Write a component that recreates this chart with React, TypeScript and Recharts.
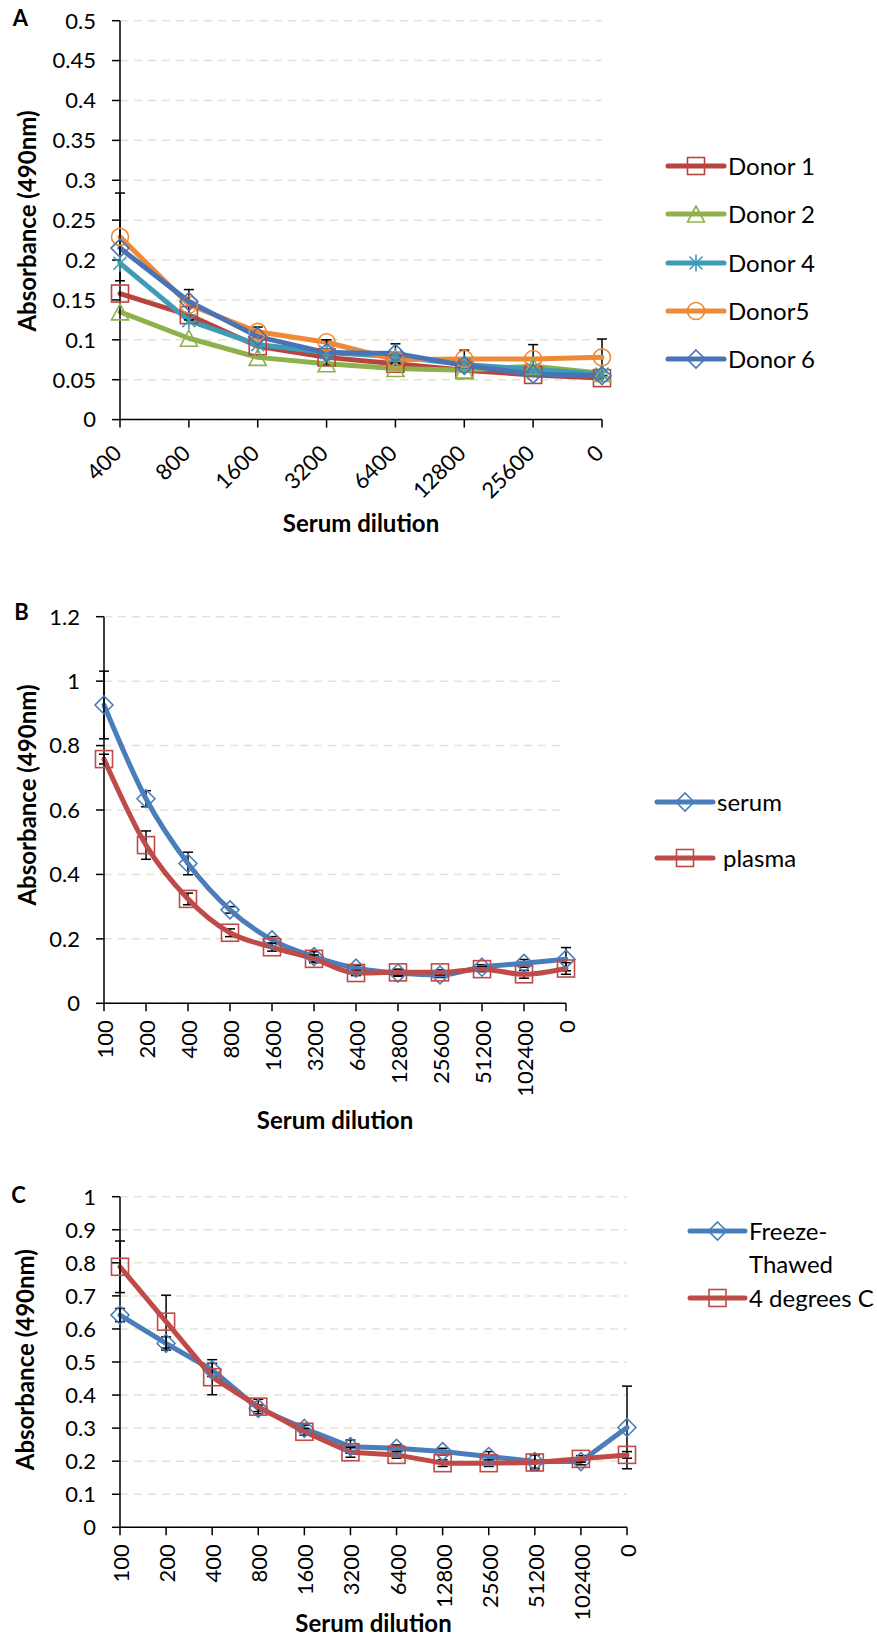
import React from "react";
import { LineChart, Line, XAxis, YAxis, CartesianGrid, ErrorBar, Legend } from "recharts";

const FONT = 'Lato, Carlito, Calibri, "Open Sans", sans-serif';
const PAGE_W = 877;

// ---- A: five donors ----
const dilutionsA = ["400", "800", "1600", "3200", "6400", "12800", "25600", "0"];
const donor1 = [0.158, 0.131, 0.092, 0.078, 0.07, 0.062, 0.056, 0.052];
const donor2 = [0.135, 0.102, 0.078, 0.07, 0.064, 0.062, 0.067, 0.058];
const donor4 = [0.196, 0.124, 0.094, 0.084, 0.079, 0.069, 0.063, 0.057];
const donor5 = [0.229, 0.144, 0.11, 0.097, 0.075, 0.076, 0.076, 0.078];
const donor6 = [0.215, 0.148, 0.104, 0.084, 0.083, 0.068, 0.057, 0.055];
const donor5Err = [0.055, 0.019, 0.006, 0, 0, 0.011, 0.018, 0.023];
const donor6Err = [0, 0, 0, 0.016, 0.012, 0, 0, 0];
const ticksA = [0, 0.05, 0.1, 0.15, 0.2, 0.25, 0.3, 0.35, 0.4, 0.45, 0.5];

// ---- B: serum vs plasma ----
const dilutionsB = ["100", "200", "400", "800", "1600", "3200", "6400", "12800", "25600", "51200", "102400", "0"];
const serumB = [0.926, 0.635, 0.434, 0.29, 0.197, 0.145, 0.109, 0.094, 0.088, 0.112, 0.124, 0.137];
const plasmaB = [0.758, 0.491, 0.324, 0.219, 0.174, 0.138, 0.094, 0.096, 0.096, 0.106, 0.09, 0.108];
const serumErrB = [0.105, 0.025, 0.035, 0.01, 0.01, 0.015, 0.008, 0.01, 0.008, 0.008, 0.012, 0.036];
const plasmaErrB = [0.015, 0.044, 0.018, 0.012, 0.012, 0.012, 0.008, 0.01, 0.008, 0.008, 0.012, 0.018];
const ticksB = [0, 0.2, 0.4, 0.6, 0.8, 1, 1.2];

// ---- C: storage ----
const dilutionsC = ["100", "200", "400", "800", "1600", "3200", "6400", "12800", "25600", "51200", "102400", "0"];
const freezeC = [0.642, 0.556, 0.476, 0.36, 0.299, 0.244, 0.239, 0.229, 0.214, 0.199, 0.199, 0.302];
const fourDegC = [0.788, 0.622, 0.454, 0.365, 0.289, 0.227, 0.219, 0.194, 0.194, 0.196, 0.207, 0.219];
const freezeErrC = [0.02, 0.02, 0.02, 0.01, 0.01, 0.02, 0.01, 0.01, 0.015, 0.02, 0.01, 0.125];
const fourDegErrC = [0.078, 0.08, 0.053, 0.022, 0.01, 0.015, 0.01, 0.01, 0.01, 0.023, 0.01, 0.01];
const ticksC = [0, 0.1, 0.2, 0.3, 0.4, 0.5, 0.6, 0.7, 0.8, 0.9, 1];

const BLUE = "#4A7EBB";
const RED = "#BE4B48";
const DONOR_BLUE = "#4674B6";
const DONOR_RED = "#B8443F";
const GREEN = "#8DB24C";
const AQUA = "#3F9CB6";
const ORANGE = "#EE8A36";

type Shape = "square" | "triangle" | "star" | "circle" | "diamond";

interface SeriesDef {
  key: string;
  label: string[];
  color: string;
  shape: Shape;
  err?: string;
}

interface PanelDef {
  letter: string;
  letterAt: [number, number];
  top: number;
  height: number;
  plot: { left: number; right: number; top: number; bottom: number };
  xAxisHeight: number;
  rows: Record<string, string | number>[];
  series: SeriesDef[];
  yDomain: [number, number];
  yTicks: number[];
  curve: "linear" | "monotone";
  slanted: boolean;
  yTitleAt: [number, number];
  xTitleY: number;
  legendLine: [number, number];
  legendTextX: number[];
  legendY: number[][];
}

const rowsA = dilutionsA.map((d, i) => ({
  dilution: d,
  donor1: donor1[i],
  donor2: donor2[i],
  donor4: donor4[i],
  donor5: donor5[i],
  donor6: donor6[i],
  donor5Err: donor5Err[i],
  donor6Err: donor6Err[i],
}));

const rowsB = dilutionsB.map((d, i) => ({
  dilution: d,
  serum: serumB[i],
  plasma: plasmaB[i],
  serumErr: serumErrB[i],
  plasmaErr: plasmaErrB[i],
}));

const rowsC = dilutionsC.map((d, i) => ({
  dilution: d,
  freeze: freezeC[i],
  fourDeg: fourDegC[i],
  freezeErr: freezeErrC[i],
  fourDegErr: fourDegErrC[i],
}));

const panels: PanelDef[] = [
  {
    letter: "A",
    letterAt: [20.5, 17.5],
    top: 0,
    height: 545,
    plot: { left: 120, right: 602, top: 20.7, bottom: 419.6 },
    xAxisHeight: 110,
    rows: rowsA,
    series: [
      { key: "donor1", label: ["Donor 1"], color: DONOR_RED, shape: "square" },
      { key: "donor2", label: ["Donor 2"], color: GREEN, shape: "triangle" },
      { key: "donor4", label: ["Donor 4"], color: AQUA, shape: "star" },
      { key: "donor5", label: ["Donor5"], color: ORANGE, shape: "circle", err: "donor5Err" },
      { key: "donor6", label: ["Donor 6"], color: DONOR_BLUE, shape: "diamond", err: "donor6Err" },
    ],
    yDomain: [0, 0.5],
    yTicks: ticksA,
    curve: "linear",
    slanted: true,
    yTitleAt: [26.5, 221],
    xTitleY: 523,
    legendLine: [668, 724],
    legendTextX: [728, 728, 728, 728, 728],
    legendY: [[166], [214], [263], [311], [359]],
  },
  {
    letter: "B",
    letterAt: [21.5, 52],
    top: 560,
    height: 580,
    plot: { left: 104, right: 566, top: 56.7, bottom: 443.3 },
    xAxisHeight: 120,
    rows: rowsB,
    series: [
      { key: "serum", label: ["serum"], color: BLUE, shape: "diamond", err: "serumErr" },
      { key: "plasma", label: ["plasma"], color: RED, shape: "square", err: "plasmaErr" },
    ],
    yDomain: [0, 1.2],
    yTicks: ticksB,
    curve: "monotone",
    slanted: false,
    yTitleAt: [26, 235],
    xTitleY: 560,
    legendLine: [657, 713],
    legendTextX: [717, 723],
    legendY: [[242], [298]],
  },
  {
    letter: "C",
    letterAt: [18.5, 54.5],
    top: 1140,
    height: 495,
    plot: { left: 120, right: 627, top: 56.7, bottom: 387.3 },
    xAxisHeight: 95,
    rows: rowsC,
    series: [
      { key: "freeze", label: ["Freeze-", "Thawed"], color: BLUE, shape: "diamond", err: "freezeErr" },
      { key: "fourDeg", label: ["4 degrees C"], color: RED, shape: "square", err: "fourDegErr" },
    ],
    yDomain: [0, 1],
    yTicks: ticksC,
    curve: "linear",
    slanted: false,
    yTitleAt: [25, 219.7],
    xTitleY: 483,
    legendLine: [690, 745],
    legendTextX: [749, 749],
    legendY: [[91, 124], [158]],
  },
];

const axisStroke = { stroke: "#000", strokeWidth: 1.5 };
const fmtTick = (v: number) => String(Number(v.toFixed(2)));

function Marker({ shape, cx, cy, color }: { shape: Shape; cx: number; cy: number; color: string }) {
  const s = 8.5;
  const common = { fill: "none", stroke: color, strokeWidth: 1.6 };
  switch (shape) {
    case "square":
      return <rect x={cx - s} y={cy - s} width={2 * s} height={2 * s} {...common} />;
    case "circle":
      return <circle cx={cx} cy={cy} r={s} {...common} />;
    case "diamond":
      return <polygon points={`${cx},${cy - 9} ${cx + 9},${cy} ${cx},${cy + 9} ${cx - 9},${cy}`} {...common} />;
    case "triangle":
      return <polygon points={`${cx},${cy - 8} ${cx + 8.5},${cy + 8} ${cx - 8.5},${cy + 8}`} {...common} />;
    case "star":
      return (
        <path
          d={`M${cx} ${cy - s}V${cy + s}M${cx - 6.5} ${cy - 6.5}L${cx + 6.5} ${cy + 6.5}M${cx - 6.5} ${cy + 6.5}L${cx + 6.5} ${cy - 6.5}`}
          {...common}
        />
      );
  }
  return null;
}

const dotFor = (s: SeriesDef) => (p: any) => {
  const key = `${s.key}-${p.index}`;
  if (p.cx == null || p.cy == null) return <g key={key} />;
  return (
    <g key={key}>
      <Marker shape={s.shape} cx={p.cx} cy={p.cy} color={s.color} />
    </g>
  );
};

// dilution labels slanted at 45 degrees (panel A)
function SlantTick({ x, y, payload }: any) {
  const px = x + 3;
  const py = y + 25;
  return (
    <text x={px} y={py} transform={`rotate(-45 ${px} ${py})`} textAnchor="end" fontSize={22} fill="#000">
      {payload.value}
    </text>
  );
}

// dilution labels reading bottom-to-top (panels B and C)
function UprightTick({ x, y, payload }: any) {
  const px = x + 9;
  const py = y + 7;
  return (
    <text x={px} y={py} transform={`rotate(-90 ${px} ${py})`} textAnchor="end" fontSize={22} fill="#000">
      {payload.value}
    </text>
  );
}

function LegendArt({ p }: { p: PanelDef }) {
  const [x1, x2] = p.legendLine;
  return (
    <svg width={PAGE_W} height={p.height} style={{ overflow: "visible" }}>
      {p.series.map((s, i) => {
        const ys = p.legendY[i];
        const y = ys[0];
        return (
          <g key={s.key}>
            <line x1={x1} y1={y} x2={x2} y2={y} stroke={s.color} strokeWidth={5} strokeLinecap="round" />
            <Marker shape={s.shape} cx={(x1 + x2) / 2} cy={y} color={s.color} />
            {s.label.map((t, j) => (
              <text key={t} x={p.legendTextX[i]} y={ys[j] + 8.5} fontSize={24} fill="#000">
                {t}
              </text>
            ))}
          </g>
        );
      })}
    </svg>
  );
}

function Panel({ p }: { p: PanelDef }) {
  const margin = {
    top: p.plot.top,
    right: PAGE_W - p.plot.right,
    left: 0,
    bottom: p.height - p.plot.bottom - p.xAxisHeight,
  };
  const xCenter = (p.plot.left + p.plot.right) / 2;

  const yTitle = () => (
    <g>
      <text
        x={p.yTitleAt[0]}
        y={p.yTitleAt[1]}
        transform={`rotate(-90 ${p.yTitleAt[0]} ${p.yTitleAt[1]})`}
        textAnchor="middle"
        dominantBaseline="central"
        fontSize={24}
        fontWeight={700}
        fill="#000"
      >
        Absorbance (490nm)
      </text>
      <text
        x={p.letterAt[0]}
        y={p.letterAt[1] + 8}
        textAnchor="middle"
        fontSize={22}
        fontWeight={700}
        fill="#000"
      >
        {p.letter}
      </text>
    </g>
  );

  const xTitle = () => (
    <text x={xCenter} y={p.xTitleY + 8.5} textAnchor="middle" fontSize={24} fontWeight={700} fill="#000">
      Serum dilution
    </text>
  );

  return (
    <div style={{ position: "absolute", left: 0, top: p.top }}>
      <LineChart width={PAGE_W} height={p.height} data={p.rows} margin={margin}>
        <CartesianGrid vertical={false} stroke="#E6E2CF" strokeWidth={1.5} strokeDasharray="8 6" />
        <XAxis
          dataKey="dilution"
          interval={0}
          height={p.xAxisHeight}
          tickSize={8}
          axisLine={axisStroke}
          tickLine={axisStroke}
          tick={(props: any) => (p.slanted ? <SlantTick {...props} /> : <UprightTick {...props} />)}
          label={xTitle}
        />
        <YAxis
          type="number"
          domain={p.yDomain}
          ticks={p.yTicks}
          interval={0}
          width={p.plot.left}
          tickSize={8}
          tickMargin={16}
          tickFormatter={fmtTick}
          axisLine={axisStroke}
          tickLine={axisStroke}
          tick={{ fontSize: 22, fill: "#000" }}
          label={yTitle}
        />
        <Legend
          layout="vertical"
          align="center"
          verticalAlign="middle"
          wrapperStyle={{ left: 0, top: 0, width: PAGE_W, height: p.height }}
          content={() => <LegendArt p={p} />}
        />
        {p.series.map((s) => (
          <Line
            key={s.key}
            type={p.curve}
            dataKey={s.key}
            name={s.label.join(" ")}
            stroke={s.color}
            strokeWidth={5}
            strokeLinejoin="round"
            strokeLinecap="round"
            dot={dotFor(s)}
            activeDot={false}
            isAnimationActive={false}
          >
            {s.err ? (
              <ErrorBar dataKey={s.err} direction="y" width={5} stroke="#000" strokeWidth={1.5} isAnimationActive={false} />
            ) : null}
          </Line>
        ))}
      </LineChart>
    </div>
  );
}

export default function App() {
  return (
    <div
      style={{
        position: "absolute",
        left: 0,
        top: 0,
        width: PAGE_W,
        height: 1635,
        background: "#fff",
        fontFamily: FONT,
        color: "#000",
      }}
    >
      {panels.map((p) => (
        <Panel key={p.letter} p={p} />
      ))}
    </div>
  );
}
